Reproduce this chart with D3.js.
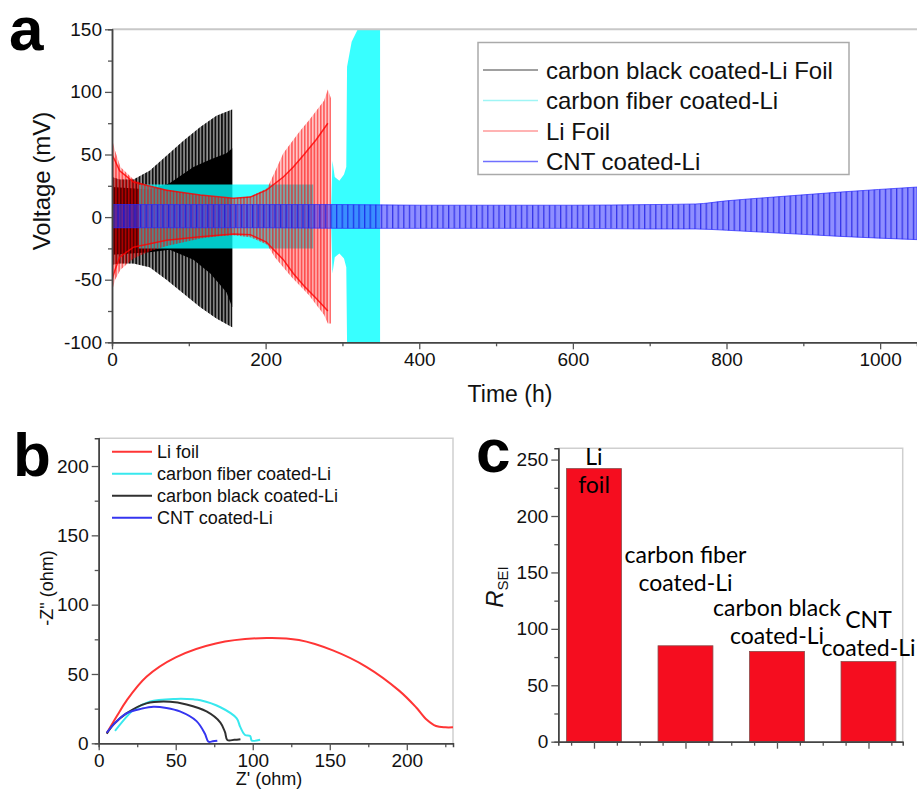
<!DOCTYPE html>
<html>
<head>
<meta charset="utf-8">
<script src="https://cdn.jsdelivr.net/npm/d3@7"></script>
<style>
  body { margin: 0; background: #fff; }
  svg text { font-family: "Liberation Sans", Arial, sans-serif; fill: #111; }
</style>
</head>
<body>
<div id="svg-container"></div>
<script>
// ---------- panel a : voltage envelopes (time h, mV) ----------
var cbOuterTime  = [0, 10, 28, 49, 71, 93, 115, 136, 156.5];
var cbOuterHigh  = [32, 30, 30, 37, 49, 61, 72, 81, 86];
var cbOuterLow   = [-38, -37, -37, -40, -50, -61, -72, -81, -88];
var cbInnerTime  = [0, 49, 75, 106, 128, 149, 156.5];
var cbInnerHigh  = [24, 22, 27, 40, 46, 51, 55];
var cbInnerLow   = [-30, -28, -26, -34, -45, -60, -72];

var cfTime  = [35, 262, 262, 285, 287, 290, 296, 302, 305, 306, 312, 320, 349];
var cfHigh  = [26, 26, 0, 0, 45, 32, 29, 34, 40, 120, 140, 150, 150];
var cfLow   = [-25, -25, 0, 0, -45, -32, -29, -33, -40, -100, -100, -100, -100];

var liOuterTime = [0, 1, 4, 11, 28, 50, 71, 93, 115, 136, 158, 180, 202, 212, 223, 234, 245, 256, 266, 276, 281, 285];
var liOuterHigh = [82, 60, 53, 40, 30, 24, 22, 19.5, 17.6, 16, 15, 16.5, 23, 36, 51, 60, 69, 77, 85, 93, 102, 95];
var liOuterLow  = [-60, -57, -50, -42, -33, -27, -23, -20, -17, -15.5, -14.5, -16, -22, -32, -40, -48, -55, -62, -70, -78, -85, -85];
var liInnerTime = [0, 4, 10, 28, 71, 115, 158, 180, 201, 223, 236, 250, 266, 281];
var liInnerHigh = [50, 45, 37, 28, 21.5, 17.6, 15, 16, 21.5, 32, 40, 50, 62, 75];
var liInnerLow  = [-50, -42, -32, -24, -18.5, -15.7, -13.5, -14, -20, -34, -45, -55, -65, -75];

var cntTime = [0, 100, 200, 300, 400, 500, 600, 700, 760, 800, 861, 948, 1048];
var cntHigh = [10, 10, 10, 10, 9.5, 9.5, 9.5, 10, 10.5, 13, 16, 20, 24];
var cntLow  = [-8.5, -8.5, -8.5, -9, -9, -9, -9, -9.5, -9.5, -10.5, -12.5, -15.4, -18];

var legendA = ["carbon black coated-Li Foil", "carbon fiber coated-Li", "Li Foil", "CNT coated-Li"];

// ---------- panel b : Nyquist curves (Z' ohm, -Z'' ohm) ----------
var liFoilZ  = [[5.2, 7.2], [12, 20], [18.2, 31], [31, 48], [50, 62], [76, 72], [109, 76], [130, 74.5], [152, 67], [174, 55], [195, 38], [206, 26], [213, 17], [219, 12.5], [225, 11.5], [230, 11.5]];
var fiberZ   = [[10.6, 9], [18.2, 19.2], [22.5, 24], [33, 30], [50, 32], [61.4, 31.7], [66, 31], [79, 26], [89.6, 18], [91.8, 12], [95, 6], [98.3, 5.2], [99.4, 2], [104.8, 2.6]];
var blackZ   = [[5.2, 7], [10, 14], [18, 21.6], [31, 28.8], [46.3, 30], [57, 28], [70, 23], [79, 15], [82, 8], [83.5, 2.4], [88, 2.5], [92, 3]];
var cntZ     = [[5.2, 7.6], [10, 14], [18, 21.6], [28, 25], [35.5, 26.4], [44, 25.5], [52.7, 23], [63.5, 16], [68.9, 7], [71.2, 1.2], [74, 1.4], [77, 1.8]];
var legendB  = ["Li foil", "carbon fiber coated-Li", "carbon black coated-Li", "CNT coated-Li"];

// ---------- panel c : R_SEI bars ----------
var barCategories = [1, 2, 3, 4];
var barValues = [242, 85, 80, 71];
var barLabels = [["Li", "foil"], ["carbon fiber", "coated-Li"], ["carbon black", "coated-Li"], ["CNT", "coated-Li"]];

var svg = d3.select("#svg-container").append("svg")
    .attr("width", 917)
    .attr("height", 791);

var defs = svg.append("defs");

// vertical stripe pattern, stands in for the dense charge/discharge cycles
function stripes(id, color, period, width, opacity) {
  var p = defs.append("pattern")
      .attr("id", id)
      .attr("patternUnits", "userSpaceOnUse")
      .attr("width", period)
      .attr("height", 10);
  p.append("rect")
      .attr("width", width)
      .attr("height", 10)
      .attr("fill", color)
      .attr("fill-opacity", opacity);
}
stripes("stripe-black", "#000", 3.3, 1.8, 0.9);
stripes("stripe-red", "#ff0000", 3.2, 1.5, 0.55);
stripes("stripe-blue", "#1010e0", 5.6, 1.3, 0.7);

function envelope(t, hi, lo) {
  return t.map(function(d, i) { return { t: d, hi: hi[i], lo: lo[i] }; });
}

// plain hyphen for negatives, like the original figure
var plainFmt = function(d) { return String(d); };

// draw outer ticks (major + minor) for an axis
function axisWithMinor(g, maker, scale, major, minor, fmt) {
  g.append("g").call(maker(scale).tickValues(minor).tickSize(4).tickFormat(""));
  g.append("g").call(maker(scale).tickValues(major).tickSize(7).tickSizeOuter(0).tickFormat(fmt || plainFmt));
  g.selectAll("path.domain").attr("stroke", "#444").attr("stroke-width", 1.5);
  g.selectAll(".tick line").attr("stroke", "#555").attr("stroke-width", 1.3);
  g.selectAll(".tick text").attr("font-size", 19).attr("fill", "#1a1a1a");
}

function panelLetter(txt, x, y) {
  svg.append("text")
      .attr("x", x).attr("y", y)
      .attr("font-size", 62)
      .attr("font-weight", "bold")
      .style("fill", "#000")
      .text(txt);
}

// =================== panel a ===================
var xA = d3.scaleLinear().domain([0, 1048]).range([112, 917]);
var yA = d3.scaleLinear().domain([-100, 150]).range([342.3, 29.3]);

defs.append("clipPath").attr("id", "clip-a")
  .append("rect")
    .attr("x", xA.range()[0]).attr("y", yA.range()[1])
    .attr("width", xA.range()[1] - xA.range()[0])
    .attr("height", yA.range()[0] - yA.range()[1]);

var areaA = d3.area()
    .x(function(d) { return xA(d.t); })
    .y0(function(d) { return yA(d.lo); })
    .y1(function(d) { return yA(d.hi); });

var plotA = svg.append("g").attr("clip-path", "url(#clip-a)");

// carbon black: spiky outer band and dense core
var cbOuter = envelope(cbOuterTime, cbOuterHigh, cbOuterLow);
plotA.append("path").datum(cbOuter).attr("d", areaA).attr("fill", "#000").attr("fill-opacity", 0.42);
plotA.append("path").datum(cbOuter).attr("d", areaA).attr("fill", "url(#stripe-black)");
plotA.append("path").datum(envelope(cbInnerTime, cbInnerHigh, cbInnerLow)).attr("d", areaA).attr("fill", "#000");

// carbon fiber
plotA.append("path").datum(envelope(cfTime, cfHigh, cfLow)).attr("d", areaA)
    .attr("fill", "#00ffff").attr("fill-opacity", 0.78);

// Li foil
var liOuter = envelope(liOuterTime, liOuterHigh, liOuterLow);
var liInner = envelope(liInnerTime, liInnerHigh, liInnerLow);
plotA.append("path").datum(liOuter).attr("d", areaA).attr("fill", "#ff0000").attr("fill-opacity", 0.22);
plotA.append("path").datum(liOuter).attr("d", areaA).attr("fill", "url(#stripe-red)");
plotA.append("path").datum(liInner).attr("d", areaA).attr("fill", "#ff0000").attr("fill-opacity", 0.15);
["hi", "lo"].forEach(function(k) {
  plotA.append("path").datum(liInner)
      .attr("d", d3.line().x(function(d) { return xA(d.t); }).y(function(d) { return yA(d[k]); }))
      .attr("fill", "none").attr("stroke", "#ff0000").attr("stroke-width", 1.5).attr("stroke-opacity", 0.8);
});

// CNT
var cnt = envelope(cntTime, cntHigh, cntLow);
plotA.append("path").datum(cnt).attr("d", areaA.curve(d3.curveMonotoneX)).attr("fill", "#3c3cff").attr("fill-opacity", 0.58);
plotA.append("path").datum(cnt).attr("d", areaA).attr("fill", "url(#stripe-blue)")
    .attr("stroke", "#2a2aff").attr("stroke-width", 1).attr("stroke-opacity", 0.7);

// frame + axes
svg.append("line")
    .attr("x1", xA.range()[0]).attr("x2", xA.range()[1])
    .attr("y1", yA.range()[1]).attr("y2", yA.range()[1])
    .attr("stroke", "#c8c8c8").attr("stroke-width", 2);

axisWithMinor(svg.append("g").attr("transform", "translate(0," + yA.range()[0] + ")"),
    d3.axisBottom, xA, d3.range(0, 1001, 200), d3.range(100, 1001, 200));
axisWithMinor(svg.append("g").attr("transform", "translate(" + xA.range()[0] + ",0)"),
    d3.axisLeft, yA, d3.range(-100, 151, 50), d3.range(-75, 150, 50));

svg.append("text")
    .attr("transform", "translate(50,181) rotate(-90)")
    .attr("text-anchor", "middle")
    .attr("font-size", 24)
    .text("Voltage (mV)");

svg.append("text")
    .attr("x", 510).attr("y", 402)
    .attr("text-anchor", "middle")
    .attr("font-size", 23)
    .text("Time (h)");

// legend a
var legA = svg.append("g");
legA.append("rect")
    .attr("x", 478).attr("y", 42.5)
    .attr("width", 371).attr("height", 132)
    .attr("fill", "#fff").attr("stroke", "#aaa").attr("stroke-width", 1.5);
var legAColors = ["#808080", "#9ff5f5", "#ff9a9a", "#7070ff"];
legendA.forEach(function(name, i) {
  var cy = 70 + i * 30.5;
  legA.append("line")
      .attr("x1", 483).attr("x2", 538).attr("y1", cy).attr("y2", cy)
      .attr("stroke", legAColors[i]).attr("stroke-width", 1.5);
  legA.append("text")
      .attr("x", 546).attr("y", cy + 8.5)
      .attr("font-size", 24)
      .text(name);
});

panelLetter("a", 9, 50);

// =================== panel b ===================
var xB = d3.scaleLinear().domain([0, 230]).range([98.7, 453]);
var yB = d3.scaleLinear().domain([0, 220]).range([743.3, 438.3]);

svg.append("path")
    .attr("d", "M" + xB.range()[0] + "," + yB.range()[1] + "H" + xB.range()[1] + "V" + yB.range()[0])
    .attr("fill", "none").attr("stroke", "#cfcfcf").attr("stroke-width", 1.5);

var lineB = d3.line()
    .x(function(d) { return xB(d[0]); })
    .y(function(d) { return yB(d[1]); })
    .curve(d3.curveCatmullRom);

var seriesB = [liFoilZ, fiberZ, blackZ, cntZ];
var colorsB = ["#ff3535", "#38e8ee", "#303030", "#3535f0"];
seriesB.forEach(function(pts, i) {
  svg.append("path").datum(pts)
      .attr("d", lineB)
      .attr("fill", "none")
      .attr("stroke", colorsB[i])
      .attr("stroke-width", 2);
});

axisWithMinor(svg.append("g").attr("transform", "translate(0," + yB.range()[0] + ")"),
    d3.axisBottom, xB, d3.range(0, 201, 50), d3.range(25, 230, 50));
axisWithMinor(svg.append("g").attr("transform", "translate(" + xB.range()[0] + ",0)"),
    d3.axisLeft, yB, d3.range(0, 201, 50), d3.range(25, 220, 50));

svg.append("text")
    .attr("transform", "translate(53,588) rotate(-90)")
    .attr("text-anchor", "middle")
    .attr("font-size", 18)
    .text("-Z\" (ohm)");

svg.append("text")
    .attr("x", 269).attr("y", 785)
    .attr("text-anchor", "middle")
    .attr("font-size", 18)
    .text("Z' (ohm)");

legendB.forEach(function(name, i) {
  var cy = 451.7 + i * 22;
  svg.append("line")
      .attr("x1", 112).attr("x2", 152).attr("y1", cy).attr("y2", cy)
      .attr("stroke", colorsB[i]).attr("stroke-width", 2);
  svg.append("text")
      .attr("x", 157).attr("y", cy + 6.5)
      .attr("font-size", 18)
      .text(name);
});

panelLetter("b", 13, 476);

// =================== panel c ===================
var xC = d3.scaleLinear().domain([0.61, 4.374]).range([558.3, 902.7]);
var yC = d3.scaleLinear().domain([0, 260]).range([741.7, 448.3]);
var barWidth = 0.6;

svg.append("path")
    .attr("d", "M" + xC.range()[0] + "," + yC.range()[1] + "H" + xC.range()[1] + "V" + yC.range()[0])
    .attr("fill", "none").attr("stroke", "#cfcfcf").attr("stroke-width", 1.5);

svg.selectAll(".bar")
  .data(barValues)
  .enter()
  .append("rect")
    .attr("class", "bar")
    .attr("x", function(d, i) { return xC(barCategories[i] - barWidth / 2); })
    .attr("width", xC(barWidth) - xC(0))
    .attr("y", function(d) { return yC(d); })
    .attr("height", function(d) { return yC(0) - yC(d); })
    .attr("fill", "#f50d1f")
    .attr("stroke", "#8a4a4a")
    .attr("stroke-width", 0.8);

// category labels sit above (or inside) each bar
var labelLift = [4, 83, 35, 34];
barLabels.forEach(function(lines, i) {
  var base = yC(barValues[i]) - labelLift[i];
  lines.forEach(function(s, j) {
    svg.append("text")
        .attr("x", xC(barCategories[i]))
        .attr("y", base + j * 28)
        .attr("text-anchor", "middle")
        .attr("font-size", 23)
        .style("font-family", "Lato, 'Noto Sans', sans-serif")
        .style("fill", "#000")
        .text(s);
  });
});

var minorC = d3.range(0.75, 4.3, 0.25).filter(function(v) { return v % 1 !== 0; });
axisWithMinor(svg.append("g").attr("transform", "translate(0," + yC.range()[0] + ")"),
    d3.axisBottom, xC, barCategories, minorC, function() { return ""; });
axisWithMinor(svg.append("g").attr("transform", "translate(" + xC.range()[0] + ",0)"),
    d3.axisLeft, yC, d3.range(0, 251, 50), d3.range(25, 250, 50));

var rsei = svg.append("text")
    .attr("transform", "translate(503,587) rotate(-90)")
    .attr("text-anchor", "middle")
    .attr("font-size", 24);
rsei.append("tspan").attr("font-style", "italic").text("R");
rsei.append("tspan").attr("font-size", 15).attr("dy", 5).text("SEI");

panelLetter("c", 476, 472);
</script>
</body>
</html>
